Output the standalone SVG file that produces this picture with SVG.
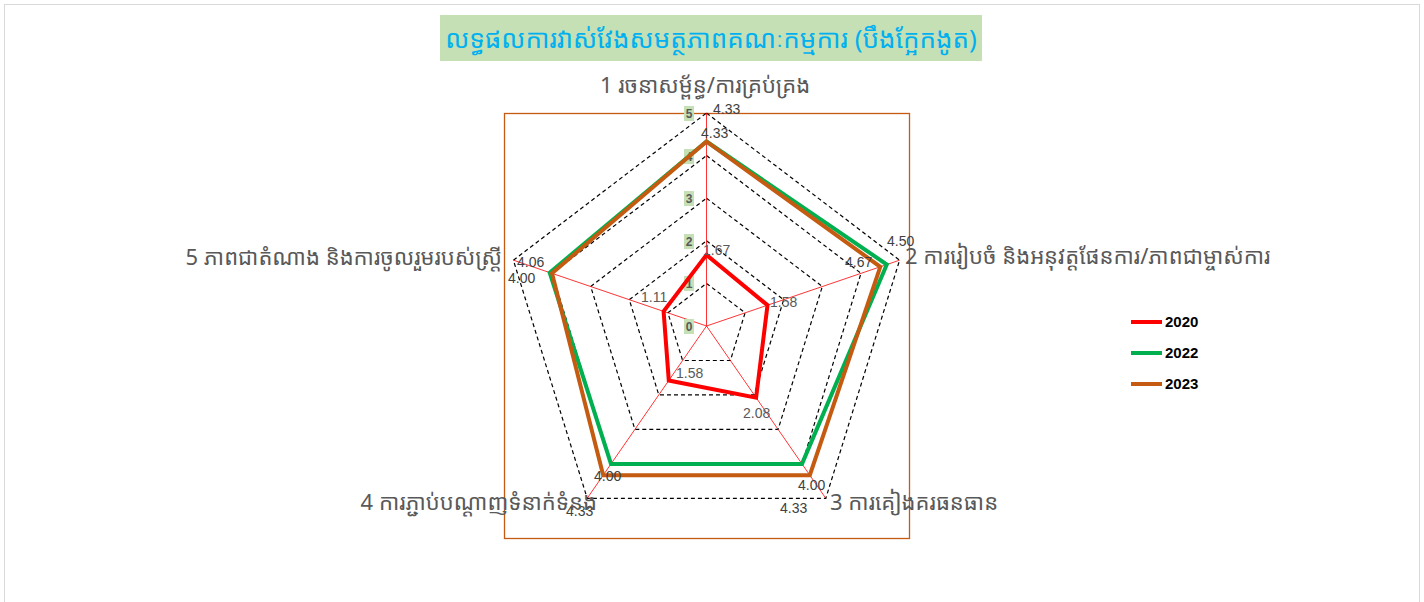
<svg xmlns="http://www.w3.org/2000/svg" width="1424" height="602" viewBox="0 0 1424 602">
<style>
.grid{fill:none;stroke:#000;stroke-width:1.2;stroke-dasharray:4 3}
.spoke{stroke:#ff0000;stroke-width:0.8}
.ser{fill:none;stroke-width:4;stroke-linejoin:miter}
.dl{font-family:"Liberation Sans",Arial,sans-serif;font-size:14px;fill:#404040}
.dl2{font-family:"Liberation Sans",Arial,sans-serif;font-size:14px;fill:#595959}
.tick{font-family:"Liberation Sans",Arial,sans-serif;font-size:12px;font-weight:bold;fill:#595959;text-anchor:middle}
.tickbg{fill:#c5e0b4}
.ax{font-family:"Noto Sans Khmer","Khmer OS System","Khmer OS","Noto Sans",sans-serif;font-size:22px;fill:#595959}
.leg{font-family:"Liberation Sans",Arial,sans-serif;font-size:15px;font-weight:bold;fill:#000}
</style>
<rect x="0" y="0" width="1424" height="602" fill="#fff"/>
<rect x="4.5" y="4.5" width="1415" height="610" fill="#fff" stroke="#d9d9d9" stroke-width="1"/>
<g id="title">
<rect x="440" y="15" width="542" height="46" fill="#c5e0b4"/>
<text x="711" y="48" text-anchor="middle" font-family="&quot;Noto Sans Khmer&quot;,&quot;Khmer OS System&quot;,&quot;Noto Sans&quot;,sans-serif" font-size="26" fill="#00b0f0">លទ្ធផលការវាស់វែងសមត្ថភាពគណៈកម្មការ (បឹងក្អែកងូត)</text>
</g>
<rect id="plot-area" x="504.5" y="113.5" width="405" height="425" fill="none" stroke="#c55a11" stroke-width="1.3"/>
<g id="grid">
<polygon class="grid" points="706.5,283.4 745.1,312.8 730.4,360.5 682.6,360.5 667.9,312.8"/>
<polygon class="grid" points="706.5,240.8 783.7,299.7 754.2,394.9 658.8,394.9 629.3,299.7"/>
<polygon class="grid" points="706.5,198.2 822.3,286.5 778.1,429.4 634.9,429.4 590.7,286.5"/>
<polygon class="grid" points="706.5,155.6 861.0,273.3 802.0,463.9 611.0,463.9 552.0,273.3"/>
<polygon class="grid" points="706.5,113 899.6,260.2 825.8,498.3 587.2,498.3 513.4,260.2"/>
<line class="spoke" x1="706.5" y1="326" x2="706.5" y2="113"/>
<line class="spoke" x1="706.5" y1="326" x2="899.6" y2="260.2"/>
<line class="spoke" x1="706.5" y1="326" x2="825.8" y2="498.3"/>
<line class="spoke" x1="706.5" y1="326" x2="587.2" y2="498.3"/>
<line class="spoke" x1="706.5" y1="326" x2="513.4" y2="260.2"/>
</g>
<g id="ticks">
<rect class="tickbg" x="684" y="106" width="10" height="15"/><text class="tick" x="689" y="118">5</text>
<rect class="tickbg" x="684" y="149" width="10" height="15"/><text class="tick" x="689" y="161">4</text>
<rect class="tickbg" x="684" y="191" width="10" height="15"/><text class="tick" x="689" y="203">3</text>
<rect class="tickbg" x="684" y="234" width="10" height="15"/><text class="tick" x="689" y="246">2</text>
<rect class="tickbg" x="684" y="276" width="10" height="15"/><text class="tick" x="689" y="288">1</text>
<rect class="tickbg" x="684" y="319" width="10" height="15"/><text class="tick" x="689" y="331">0</text>
</g>
<g id="connectors">
<polygon id="s2020" class="ser" stroke="#ff0000" points="706.5,254.9 767.5,305.2 756.1,397.7 668.8,380.5 663.6,311.4"/>
<polygon id="s2022" class="ser" stroke="#00b050" points="706.5,141.5 886.8,264.5 802.0,463.9 611.0,463.9 549.7,272.6"/>
<polygon id="s2023" class="ser" stroke="#c55a11" points="706.5,141.5 880.3,266.8 809.8,475.2 603.2,475.2 552.0,273.3"/>
</g>
<g id="data-labels">
<text class="dl" x="713" y="114">4.33</text>
<text class="dl" x="701" y="138">4.33</text>
<text class="dl2" x="703" y="255">1.67</text>
<text class="dl" x="887" y="246">4.50</text>
<text class="dl" x="845" y="267">4.67</text>
<text class="dl2" x="770" y="307">1.58</text>
<text class="dl2" x="743" y="418">2.08</text>
<text class="dl2" x="676" y="378">1.58</text>
<text class="dl2" x="641" y="302">1.11</text>
<text class="dl" x="798" y="490">4.00</text>
<text class="dl" x="780" y="513">4.33</text>
<text class="dl" x="594" y="481">4.00</text>
<text class="dl" x="566" y="516">4.33</text>
<text class="dl" x="517" y="267">4.06</text>
<text class="dl" x="508" y="283">4.00</text>
</g>
<g id="axis1"><text class="ax" x="705" y="93" text-anchor="middle">1 រចនាសម្ព័ន្ធ/ការគ្រប់គ្រង</text></g>
<g id="axis2"><text class="ax" x="905" y="264">2 ការរៀបចំ និងអនុវត្តផែនការ/ភាពជាម្ចាស់ការ</text></g>
<g id="axis3"><text class="ax" x="830" y="510">3 ការគៀងគរធនធាន</text></g>
<g id="axis4"><text class="ax" x="597" y="510" text-anchor="end">4 ការភ្ជាប់បណ្ដាញទំនាក់ទំនង</text></g>
<g id="axis5"><text class="ax" x="502" y="265" text-anchor="end">5 ភាពជាតំណាង និងការចូលរួមរបស់ស្ត្រី</text></g>
<g id="legend">
<line x1="1131" y1="322" x2="1162" y2="322" stroke="#ff0000" stroke-width="4"/><text class="leg" x="1165" y="327">2020</text>
<line x1="1131" y1="353" x2="1162" y2="353" stroke="#00b050" stroke-width="4"/><text class="leg" x="1165" y="358">2022</text>
<line x1="1131" y1="384" x2="1162" y2="384" stroke="#c55a11" stroke-width="4"/><text class="leg" x="1165" y="389">2023</text>
</g>
</svg>
